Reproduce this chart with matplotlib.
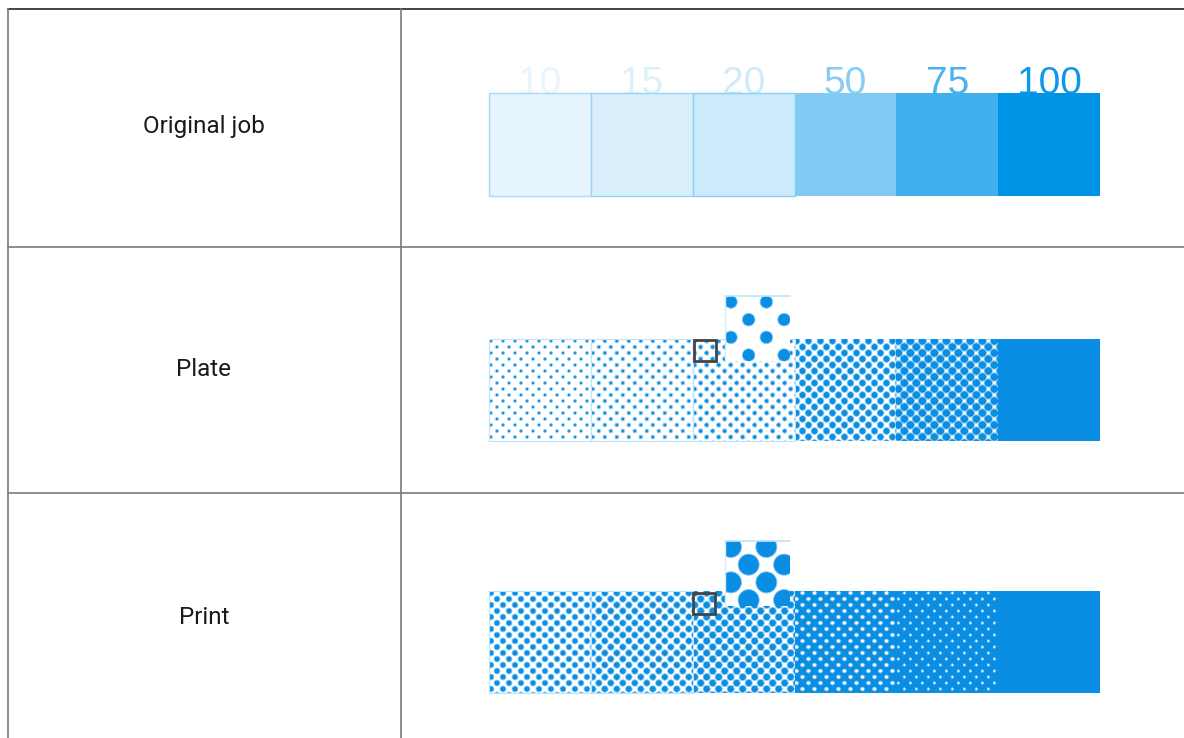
import numpy as np
import matplotlib
matplotlib.use("Agg")
import matplotlib.pyplot as plt
from matplotlib.patches import Rectangle
from matplotlib.collections import EllipseCollection

# tone values per patch (percent dot coverage)
tones = [10, 15, 20, 50, 75, 100]
plate_tone = [10, 15, 20, 50, 75, 100]
print_tone = [38, 46, 56, 85, 94, 100]
row_labels = ["Original job", "Plate", "Print"]

BLUE = np.array([0, 148, 230]) / 255.0
DOT = "#0a8ee3"
HALO = "#8fcbf2"
PITCH = 6.0  # screen lattice pitch (px), dots on the 45 degree grid


def tint(t):
    c = 1 - (1 - BLUE) * t / 100.0
    return tuple(c)


fig = plt.figure(figsize=(11.84, 7.38), dpi=100)
ax = fig.add_axes([0, 0, 1, 1])
ax.set_xlim(0, 1184); ax.set_ylim(738, 0); ax.axis("off")

# ---- table grid ----
ax.plot([8, 1184], [9, 9], color="#111", lw=1.1, zorder=5)
ax.plot([8, 8], [9, 738], color="#7a7a7a", lw=1.2, zorder=5)
ax.plot([401, 401], [9, 738], color="#7a7a7a", lw=1.2, zorder=5)
for y in (247, 493):
    ax.plot([8, 1184], [y, y], color="#7a7a7a", lw=1.2, zorder=5)
for lab, y in zip(row_labels, [127, 370, 617]):
    ax.text(204, y, lab, ha="center", va="center", fontsize=17.5, family="Roboto", color="#1a1a1a")

BX0, BX1 = 489, 1100
PW = (BX1 - BX0) / len(tones)


def lattice(x0, y0, x1, y1, odd=False, ox=2.0, oy=2.0):
    xs, ys = [], []
    nj = int((y1 - y0) / PITCH) + 3
    ni = int((x1 - x0) / PITCH) + 3
    for j in range(-1, nj):
        for i in range(-1, ni):
            if (i + j) % 2 == (1 if odd else 0):
                xs.append(x0 + ox + i * PITCH); ys.append(y0 + oy + j * PITCH)
    return np.array(xs), np.array(ys)


def dots(xs, ys, r, color, clip, z, edge):
    d = np.full(len(xs), 2 * r)
    ec = EllipseCollection(d, d, np.zeros(len(xs)), units="xy", offsets=np.column_stack([xs, ys]),
                           offset_transform=ax.transData, facecolors=color, edgecolors=edge,
                           linewidths=0.6, zorder=z)
    ax.add_collection(ec)
    ec.set_clip_path(clip)


def screen(x0, y0, x1, y1, t, z=2, mag=1.0, src=None):
    """halftone of tone t inside rect; src = lattice source window when magnified"""
    clip = Rectangle((x0, y0), x1 - x0, y1 - y0, transform=ax.transData)
    cell = 2 * PITCH ** 2
    if t >= 100:
        ax.add_patch(Rectangle((x0, y0), x1 - x0, y1 - y0, color=DOT, lw=0, zorder=z))
        return
    if src is None:
        src = (x0, y0, x1, y1)
    sx0, sy0, sx1, sy1 = src
    if t <= 78:
        xs, ys = lattice(sx0, sy0, sx1, sy1)
        r = np.sqrt(t / 100.0 * cell / np.pi)
        col = DOT
    else:
        ax.add_patch(Rectangle((x0, y0), x1 - x0, y1 - y0, color=DOT, lw=0, zorder=z))
        xs, ys = lattice(sx0, sy0, sx1, sy1, odd=True)
        r = np.sqrt((1 - t / 100.0) * cell / np.pi)
        col = "white"
    xs = x0 + (xs - sx0) * mag; ys = y0 + (ys - sy0) * mag
    dots(xs, ys, r * mag, col, clip, z + 0.1, HALO)


# ---- original job ----
OY0, OY1 = 93, 196
for k, t in enumerate(tones):
    x0 = BX0 + k * PW
    ax.add_patch(Rectangle((x0, OY0), PW, OY1 - OY0, facecolor=tint(t),
                           edgecolor=tint(min(t + 25, 100)) if t < 50 else "none", lw=1.0, zorder=2))
    ax.text(x0 + PW / 2, OY0 + 1, str(t), ha="center", va="baseline", fontsize=28,
            family="Liberation Sans", color=tint(t * 0.95), zorder=1)

# ---- plate and print ----
rows = [(plate_tone, 339, 441, (694, 340, 716, 361), (725, 296)),
        (print_tone, 591, 693, (693, 593, 715, 614), (725, 541))]
for vals, y0, y1, box, ins in rows:
    for k, t in enumerate(vals):
        x0 = BX0 + k * PW
        screen(x0, y0, x0 + PW, y1, t)
        if t < 50:
            ax.add_patch(Rectangle((x0, y0), PW, y1 - y0, fill=False, edgecolor="#bfe2fa", lw=0.8, zorder=3))
    # magnified inset of the 20% patch
    bx0, by0, bx1, by1 = box
    ix, iy = ins
    size = 65
    mag = size / (bx1 - bx0)
    ax.add_patch(Rectangle((ix, iy), size, size, facecolor="white", edgecolor="none", zorder=6))
    screen(ix, iy, ix + size, iy + size, vals[2], z=6.5, mag=mag, src=(BX0 + 2 * PW, y0, bx1 + 20, by1 + 20))
    ax.plot([ix, ix + size], [iy, iy], color="#bfe2fa", lw=1.2, zorder=7)
    ax.plot([ix, ix], [iy, iy + size], color="#d5ecfb", lw=1.0, zorder=7)
    ax.add_patch(Rectangle((bx0, by0), bx1 - bx0, by1 - by0, fill=False, edgecolor="#444",
                           lw=2.0, zorder=8))

fig.savefig("out.png", dpi=100)
